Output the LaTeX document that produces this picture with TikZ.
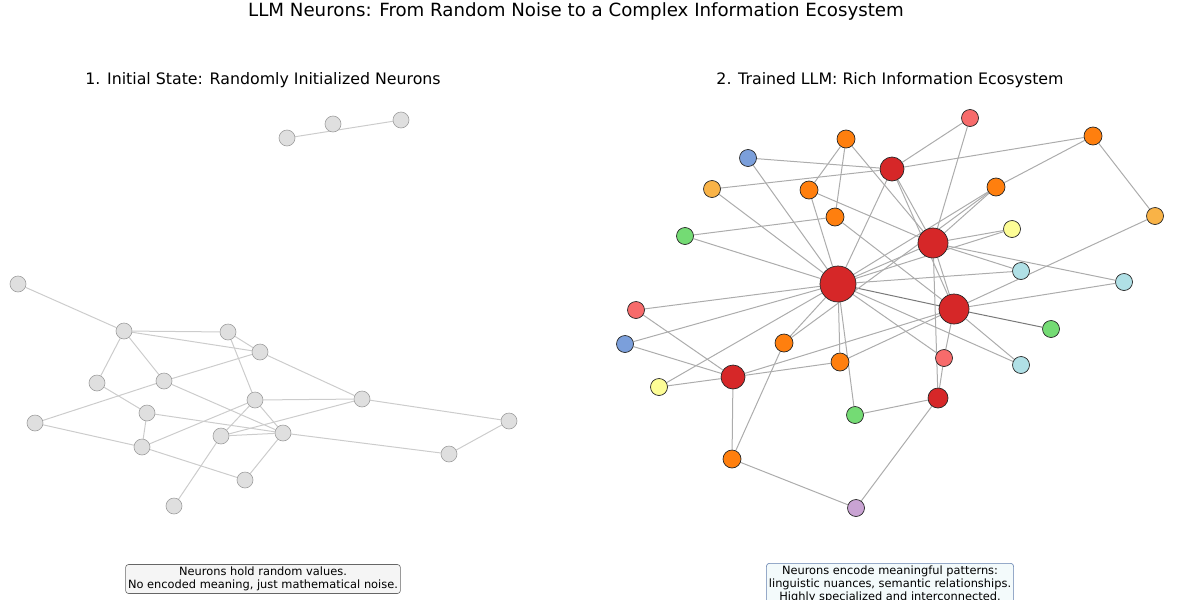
\documentclass[tikz,border=0pt]{standalone}
\usepackage{fontspec}
\setmainfont{DejaVu Sans}
\usetikzlibrary{backgrounds}

\definecolor{cred}{HTML}{D62728}
\definecolor{csalmon}{HTML}{F76B6B}
\definecolor{corange}{HTML}{FF7F0E}
\definecolor{cgold}{HTML}{F9B347}
\definecolor{cblue}{HTML}{7B9FDB}
\definecolor{cgreen}{HTML}{74DB74}
\definecolor{cyellow}{HTML}{FDFD96}
\definecolor{cpowder}{HTML}{B0E0E6}
\definecolor{cplum}{HTML}{C9A3D3}

\begin{document}
\begin{tikzpicture}[x=1pt, y=-1pt,
    idle/.style={circle, draw=gray!75, fill=gray!25, line width=0.6pt, minimum size=16pt, inner sep=0pt},
    cell/.style={circle, draw=black!85, line width=0.7pt, minimum size=#1, inner sep=0pt},
    cell/.default=18pt,
    weak/.style={draw=gray!40, line width=1pt},
    link/.style={draw=gray!65, line width=1pt},
    strong/.style={draw=gray!95!black, line width=1pt},
    note/.style={draw, rounded corners=3pt, line width=0.6pt, align=center, font=\fontsize{11.4}{13}\selectfont, inner sep=2.5pt}]
      \useasboundingbox (0,0) rectangle (1200,600);

      \node (title) at (576,11){\fontsize{18.2}{20}\selectfont LLM Neurons: From Random Noise to a Complex Information Ecosystem};
      \node (left) at (263,80){\fontsize{15.8}{17}\selectfont 1. Initial State: Randomly Initialized Neurons};
      \node (right) at (890,80){\fontsize{15.8}{17}\selectfont 2. Trained LLM: Rich Information Ecosystem};

      % random network
      \node[idle] (u1) at (18,284){};
      \node[idle] (u2) at (124,331){};
      \node[idle] (u3) at (228,332){};
      \node[idle] (u4) at (260,352){};
      \node[idle] (u5) at (97,383){};
      \node[idle] (u6) at (164,381){};
      \node[idle] (u7) at (255,400){};
      \node[idle] (u8) at (362,399){};
      \node[idle] (u9) at (509,421){};
      \node[idle] (u10) at (35,423){};
      \node[idle] (u11) at (147,413){};
      \node[idle] (u12) at (221,436){};
      \node[idle] (u13) at (283,433){};
      \node[idle] (u14) at (142,447){};
      \node[idle] (u15) at (449,454){};
      \node[idle] (u16) at (245,480){};
      \node[idle] (u17) at (174,506){};
      \node[idle] (u18) at (287,138){};
      \node[idle] (u19) at (333,124){};
      \node[idle] (u20) at (401,120){};

      % trained network
      \node[cell=36pt, fill=cred] (t1) at (838,284){};
      \node[cell=30pt, fill=cred] (t2) at (933,243){};
      \node[cell=30pt, fill=cred] (t3) at (954,309){};
      \node[cell=24pt, fill=cred] (t4) at (892,169){};
      \node[cell=24pt, fill=cred] (t5) at (733,377){};
      \node[cell=20pt, fill=cred] (t6) at (938,398){};
      \node[cell=17pt, fill=csalmon] (t7) at (970,118){};
      \node[cell=17pt, fill=csalmon] (t8) at (636,310){};
      \node[cell=17pt, fill=csalmon] (t9) at (944,358){};
      \node[cell, fill=corange] (t10) at (846,139){};
      \node[cell, fill=corange] (t11) at (809,190){};
      \node[cell, fill=corange] (t12) at (835,217){};
      \node[cell, fill=corange] (t13) at (996,187){};
      \node[cell, fill=corange] (t14) at (1093,136){};
      \node[cell, fill=corange] (t15) at (784,343){};
      \node[cell, fill=corange] (t16) at (840,362){};
      \node[cell, fill=corange] (t17) at (732,459){};
      \node[cell=17pt, fill=cgold] (t18) at (712,189){};
      \node[cell=17pt, fill=cgold] (t19) at (1155,216){};
      \node[cell=17pt, fill=cblue] (t20) at (748,158){};
      \node[cell=17pt, fill=cblue] (t21) at (625,344){};
      \node[cell=17pt, fill=cgreen] (t22) at (685,236){};
      \node[cell=17pt, fill=cgreen] (t23) at (1051,329){};
      \node[cell=17pt, fill=cgreen] (t24) at (855,415){};
      \node[cell=17pt, fill=cyellow] (t25) at (1012,229){};
      \node[cell=17pt, fill=cyellow] (t26) at (659,387){};
      \node[cell=17pt, fill=cpowder] (t27) at (1021,271){};
      \node[cell=17pt, fill=cpowder] (t28) at (1124,282){};
      \node[cell=17pt, fill=cpowder] (t29) at (1021,365){};
      \node[cell=17pt, fill=cplum] (t30) at (856,508){};

      \begin{scope}[on background layer]
      \draw[weak] (u1) -- (u2);
      \draw[weak] (u2) -- (u3);
      \draw[weak] (u2) -- (u4);
      \draw[weak] (u2) -- (u5);
      \draw[weak] (u2) -- (u6);
      \draw[weak] (u3) -- (u4);
      \draw[weak] (u3) -- (u7);
      \draw[weak] (u4) -- (u6);
      \draw[weak] (u4) -- (u8);
      \draw[weak] (u5) -- (u11);
      \draw[weak] (u6) -- (u10);
      \draw[weak] (u6) -- (u13);
      \draw[weak] (u7) -- (u8);
      \draw[weak] (u7) -- (u14);
      \draw[weak] (u7) -- (u12);
      \draw[weak] (u7) -- (u13);
      \draw[weak] (u8) -- (u12);
      \draw[weak] (u8) -- (u9);
      \draw[weak] (u9) -- (u15);
      \draw[weak] (u13) -- (u15);
      \draw[weak] (u10) -- (u14);
      \draw[weak] (u14) -- (u16);
      \draw[weak] (u16) -- (u13);
      \draw[weak] (u12) -- (u13);
      \draw[weak] (u11) -- (u14);
      \draw[weak] (u11) -- (u13);
      \draw[weak] (u12) -- (u17);
      \draw[weak] (u18) -- (u20);

      \draw[link] (t1) -- (t20);
      \draw[link] (t1) -- (t18);
      \draw[link] (t1) -- (t22);
      \draw[link] (t1) -- (t8);
      \draw[link] (t1) -- (t21);
      \draw[link] (t1) -- (t26);
      \draw[link] (t1) -- (t11);
      \draw[link] (t1) -- (t4);
      \draw[link] (t1) -- (t15);
      \draw[link] (t1) -- (t16);
      \draw[link] (t1) -- (t24);
      \draw[link] (t1) -- (t2);
      \draw[strong] (t1) -- (t3);
      \draw[link] (t1) -- (t13);
      \draw[link] (t1) -- (t25);
      \draw[link] (t1) -- (t27);
      \draw[link] (t1) -- (t29);
      \draw[link] (t1) -- (t9);

      \draw[link] (t2) -- (t10);
      \draw[link] (t2) -- (t11);
      \draw[link] (t2) -- (t4);
      \draw[link] (t2) -- (t7);
      \draw[link] (t2) -- (t13);
      \draw[link] (t2) -- (t25);
      \draw[link] (t2) -- (t27);
      \draw[link] (t2) -- (t28);
      \draw[link] (t2) -- (t6);
      \draw[link] (t2) -- (t3);

      \draw[link] (t3) -- (t4);
      \draw[link] (t3) -- (t12);
      \draw[link] (t3) -- (t5);
      \draw[link] (t3) -- (t16);
      \draw[link] (t3) -- (t19);
      \draw[link] (t3) -- (t28);
      \draw[strong] (t3) -- (t23);
      \draw[link] (t3) -- (t29);
      \draw[link] (t3) -- (t9);

      \draw[link] (t4) -- (t20);
      \draw[link] (t4) -- (t18);
      \draw[link] (t4) -- (t7);
      \draw[link] (t4) -- (t14);

      \draw[link] (t10) -- (t11);
      \draw[link] (t10) -- (t12);
      \draw[link] (t12) -- (t22);
      \draw[link] (t13) -- (t14);
      \draw[link] (t13) -- (t15);
      \draw[link] (t14) -- (t19);

      \draw[link] (t5) -- (t8);
      \draw[link] (t5) -- (t21);
      \draw[link] (t5) -- (t26);
      \draw[link] (t5) -- (t16);
      \draw[link] (t5) -- (t17);
      \draw[link] (t15) -- (t17);
      \draw[link] (t17) -- (t30);
      \draw[link] (t30) -- (t6);
      \draw[link] (t6) -- (t9);
      \draw[link] (t6) -- (t24);
      \end{scope}

      \node[note, draw=gray!80!black, fill=gray!8] (info1) at (263,579){Neurons hold random values.\\No encoded meaning, just mathematical noise.};
      \begin{scope}
      \clip (0,0) rectangle (1200,600);
      \node[note, draw=cblue!80!black, fill=cpowder!15, anchor=north] (info2) at (890,563){Neurons encode meaningful patterns:\\linguistic nuances, semantic relationships.\\Highly specialized and interconnected.};
      \end{scope}

    \end{tikzpicture}
\end{document}
